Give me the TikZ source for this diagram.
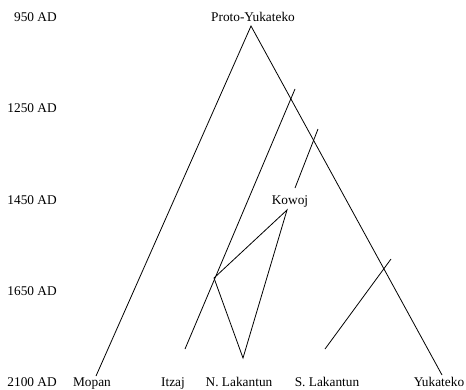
\documentclass[tikz,border=0pt]{standalone}
\usepackage{fontspec}
\setmainfont{Liberation Serif}
\begin{document}
\begin{tikzpicture}[x=0.75pt,y=-0.75pt,font=\fontsize{10}{12}\selectfont]
            \tikzstyle{date}=[anchor=base east,inner sep=0pt]
            \tikzstyle{lang}=[anchor=base,inner sep=0pt]
            \tikzstyle{branch}=[line width=0.6pt]
            \useasboundingbox (0,0) rectangle (466,389);
            % time axis
            \node[date] (d950) at (57,21.5) {950 AD};
            \node[date] (d1250) at (57,112.5) {1250 AD};
            \node[date] (d1450) at (57,204) {1450 AD};
            \node[date] (d1650) at (57,295.5) {1650 AD};
            \node[date] (d2100) at (57,386.5) {2100 AD};
            % languages
            \node[lang] (proto) at (253,21.5) {Proto-Yukateko};
            \node[lang] (kowoj) at (290,204) {Kowoj};
            \node[lang] (mopan) at (92,386.5) {Mopan};
            \node[lang] (itzaj) at (173,386.5) {Itzaj};
            \node[lang] (nlak) at (239,386.5) {N. Lakantun};
            \node[lang] (slak) at (327,386.5) {S. Lakantun};
            \node[lang] (yuk) at (439,386.5) {Yukateko};
            % branch ends
            \coordinate (root) at (251,26);
            \coordinate (mopanend) at (96,376);
            \coordinate (yukend) at (442,375);
            \coordinate (itzajtop) at (295,89);
            \coordinate (itzajend) at (185,349);
            \coordinate (kowojtop) at (318,129);
            \coordinate (kowojend) at (295,188);
            \coordinate (kowojfoot) at (287,210);
            \coordinate (contact) at (214,278);
            \coordinate (nlakend) at (243,358);
            \coordinate (slaktop) at (391,259);
            \coordinate (slakend) at (325,349);
            \draw[branch] (mopanend) -- (root) -- (yukend);
            \draw[branch] (itzajtop) -- (itzajend);
            \draw[branch] (kowojtop) -- (kowojend);
            \draw[branch] (kowojfoot) -- (contact) -- (nlakend) -- cycle;
            \draw[branch] (slaktop) -- (slakend);
\end{tikzpicture}
\end{document}
